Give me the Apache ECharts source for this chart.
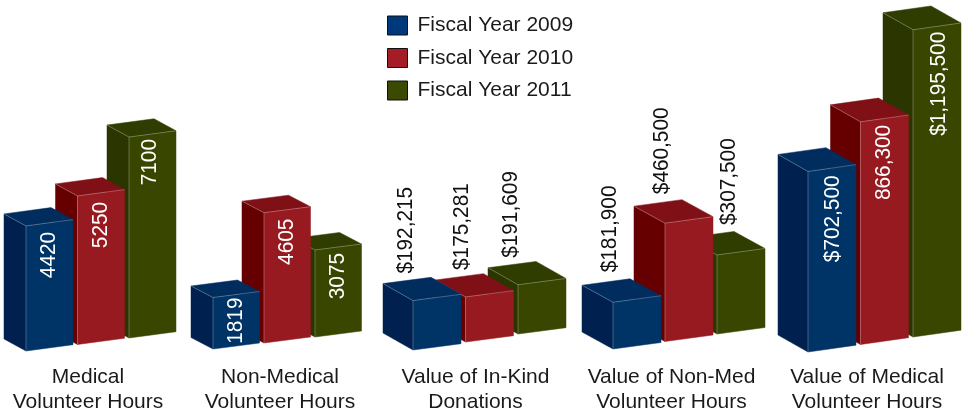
<!DOCTYPE html>
<html><head><meta charset="utf-8">
<style>html,body{margin:0;padding:0;background:#fff}#c{width:966px;height:410px}</style>
<script src="https://cdn.jsdelivr.net/npm/echarts@6/dist/echarts.min.js"></script>
</head><body><div id="c"></div>
<script>
// ---- data ----
const years = ['Fiscal Year 2009', 'Fiscal Year 2010', 'Fiscal Year 2011'];
const groupNames = ['Medical\nVolunteer Hours', 'Non-Medical\nVolunteer Hours', 'Value of In-Kind\nDonations', 'Value of Non-Med\nVolunteer Hours', 'Value of Medical\nVolunteer Hours'];
const medicalHours = [4420, 5250, 7100];
const nonMedicalHours = [1819, 4605, 3075];
const inKindValue = [192215, 175281, 191609];
const nonMedValue = [181900, 460500, 307500];
const medicalValue = [702500, 866300, 1195500];
const valueLabels = [
  ['4420', '5250', '7100'],
  ['1819', '4605', '3075'],
  ['$192,215', '$175,281', '$191,609'],
  ['$181,900', '$460,500', '$307,500'],
  ['$702,500', '866,300', '$1,195,500']
];
const groupValues = [medicalHours, nonMedicalHours, inKindValue, nonMedValue, medicalValue];

// ---- layout and style ----
const plotH = 320;
const axisMax = [11307, 11307, 1245136, 1245136, 1245136];
const firstFrontX = [26, 213, 413, 613, 808];
const barStep = [51.5, 51, 52.5, 52, 52.5];
const barW = [47, 46.5, 48, 48, 48];
const baseY = [351, 349, 350, 349, 352];
const baseDrop = [6.5, 6, 8, 7.5, 7.5];
const faceRise = [6.3, 6, 6.3, 6.5, 6.8];
const depthX = [22, 22, 30, 31, 30];
const depthY = [12, 11.5, 17, 17, 17];
const labelDx = [[23, 23, 21], [23, 23, 23], [-7, -3.5, -7], [-3.5, -3.5, 11.5], [25, 23, 26]];
const labelGap = [[6, 6, 2], [0, 6, 3], [-27, -27, -27], [-30, -29, -30], [4, 3, 2]];
const titleX = [88, 280, 475.5, 671.5, 867];
const frontColors = ['#003366', '#961a20', '#384600'];
const leftColors = ['#00204f', '#660000', '#2a3500'];
const topColors = ['#002d5e', '#7f1016', '#303d00'];
const legendColors = ['#00397a', '#a31c26', '#3a4a00'];
const FONT = '"Liberation Sans", Arial, sans-serif';
const edge = 'rgba(255,255,255,0.25)';

const grids = [], xAxes = [], yAxes = [], series = [], titles = [];
groupValues.forEach((vals, g) => {
  const s = barStep[g], w = barW[g];
  grids.push({left: firstFrontX[g] + w / 2 - s / 2, width: 3 * s, top: baseY[g] - plotH, height: plotH});
  xAxes.push({gridIndex: g, type: 'category', data: years, show: false});
  yAxes.push({gridIndex: g, type: 'value', min: 0, max: axisMax[g], show: false});
  titles.push({text: groupNames[g], left: titleX[g], top: 365, padding: 0, textAlign: 'center',
    textStyle: {fontFamily: FONT, fontSize: 21, fontWeight: 'normal', color: '#1a1a1a', lineHeight: 25}});
  // later years are painted first so that earlier ones overlap them
  [2, 1, 0].forEach(y => {
    series.push({
      type: 'custom', name: years[y], xAxisIndex: g, yAxisIndex: g, silent: true,
      itemStyle: {color: legendColors[y]},
      encode: {x: 0, y: 1},
      data: [[years[y], vals[y]]],
      renderItem(params, api) {
        const i = api.value(0);
        const top = api.coord([i, api.value(1)]);
        const zero = api.coord([i, 0]);
        const width = api.size([1, 0])[0] * (w / s);
        const drop = baseDrop[g] * i;
        const x0 = top[0] - width / 2, x1 = x0 + width;
        const yTop = top[1] - drop, yBot = zero[1] - drop;
        const dx = depthX[g], dy = depthY[g], r = faceRise[g];
        const poly = (points, fill) => ({type: 'polygon', shape: {points}, style: {fill, stroke: fill, lineWidth: 0.5}});
        const line = (a, b) => ({type: 'line', shape: {x1: a[0], y1: a[1], x2: b[0], y2: b[1]}, style: {stroke: edge, lineWidth: 1, fill: null}});
        const fl = [x0, yTop], fr = [x1, yTop - r], bl = [x0 - dx, yTop - dy], br = [x1 - dx, yTop - r - dy];
        const gap = labelGap[g][y], inside = gap >= 0;
        return {type: 'group', children: [
          poly([fl, [x0, yBot], [x0 - dx, yBot - dy], bl], leftColors[y]),
          poly([bl, br, fr, fl], topColors[y]),
          poly([fl, fr, [x1, yBot - r], [x0, yBot]], frontColors[y]),
          line(bl, fl), line(fl, fr), line(fl, [x0, yBot]),
          {type: 'text', x: x0 + labelDx[g][y], y: yTop + gap, rotation: Math.PI / 2, scaleX: 0.945, z2: 5,
            style: {text: valueLabels[g][y], fill: inside ? '#fff' : '#111',
              font: '22px ' + FONT, align: inside ? 'right' : 'left', verticalAlign: 'middle'}}
        ]};
      }
    });
  });
});

const chart = echarts.init(document.getElementById('c'), null, {renderer: 'canvas'});
chart.setOption({
  animation: false,
  backgroundColor: '#fff',
  title: titles,
  grid: grids, xAxis: xAxes, yAxis: yAxes,
  legend: {
    orient: 'vertical', left: 387, top: 15, padding: 0, itemWidth: 20, itemHeight: 19, itemGap: 11.5, selectedMode: false,
    data: years.map((n, i) => ({name: n, icon: 'rect', itemStyle: {color: legendColors[i], borderColor: '#111', borderWidth: 1}})),
    textStyle: {fontFamily: FONT, fontSize: 21, color: '#1a1a1a', padding: [0, 0, 0, 5]}
  },
  series
});
</script></body></html>
